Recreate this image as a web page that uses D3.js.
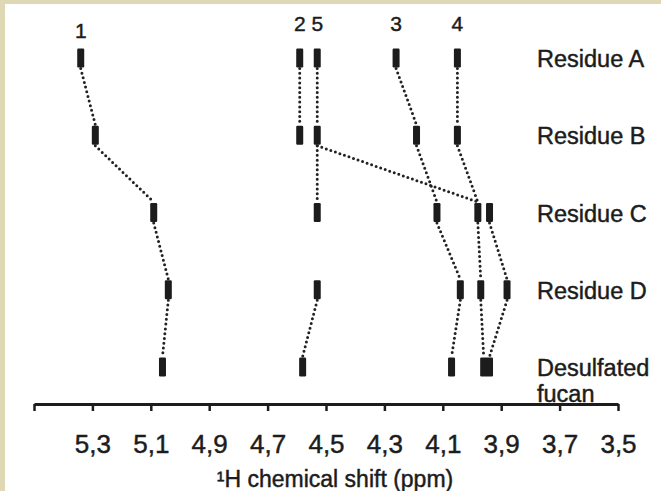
<!DOCTYPE html>
<html>
<head>
<meta charset="utf-8">
<script src="https://cdn.jsdelivr.net/npm/d3@7"></script>
<style>
  html, body { margin: 0; padding: 0; background: #fff; }
  svg { display: block; font-family: "Liberation Sans", Arial, Helvetica, sans-serif; }
  .lbl { stroke: #1c1c1c; stroke-width: 0.45px; paint-order: stroke; }
</style>
</head>
<body>
<svg id="chart" width="661" height="491"></svg>
<script>
// 1H chemical shifts (ppm) of each residue, read left to right
const rowNames = ["Residue A", "Residue B", "Residue C", "Residue D", "Desulfated fucan"];
const residueA = [5.34, 4.59, 4.53, 4.26, 4.05];
const residueB = [5.29, 4.59, 4.53, 4.19, 4.05];
const residueC = [5.09, 4.53, 4.12, 3.98, 3.94];
const residueD = [5.04, 4.53, 4.04, 3.97, 3.88];
const desulfated = [5.06, 4.58, 4.07, 3.96, 3.94];

// proton numbers over the Residue A signals
const protonLabels = ["1", "2", "5", "3", "4"];

// dotted correlations between consecutive rows: [upper ppm, lower ppm]
const linksAB = [[5.34, 5.29], [4.59, 4.59], [4.53, 4.53], [4.26, 4.19], [4.05, 4.05]];
const linksBC = [[5.29, 5.09], [4.53, 4.53], [4.53, 3.98], [4.19, 4.12], [4.05, 3.98]];
const linksCD = [[5.09, 5.04], [4.12, 4.04], [3.98, 3.97], [3.94, 3.88]];
const linksDE = [[5.04, 5.06], [4.53, 4.58], [4.04, 4.07], [3.97, 3.96], [3.88, 3.94]];

// axis ticks
const tickValues = [5.5, 5.3, 5.1, 4.9, 4.7, 4.5, 4.3, 4.1, 3.9, 3.7, 3.5];
const axisTitle = "\u00B9H chemical shift (ppm)";

const peaks = [residueA, residueB, residueC, residueD, desulfated];
const links = [linksAB, linksBC, linksCD, linksDE];

const W = 661, H = 491;
const svg = d3.select("#chart");

// beige frame with white plotting panel
svg.append("rect").attr("width", W).attr("height", H).attr("fill", "#ded8b5");
svg.append("rect").attr("x", 5).attr("y", 4).attr("width", W - 5).attr("height", H - 4).attr("fill", "#ffffff");

const x = d3.scaleLinear().domain([5.5, 3.5]).range([34, 618]);
const y = d3.scalePoint().domain(rowNames).range([58, 367]).padding(0);

const ink = "#1c1c1c";
const markW = 7, markH = 19;

// dotted connecting lines
links.forEach((set, i) => {
  const y0 = y(rowNames[i]) + markH / 2 + 1;
  const y1 = y(rowNames[i + 1]) - markH / 2 - 1;
  svg.append("g").selectAll("line").data(set).join("line")
    .attr("x1", d => x(d[0]))
    .attr("y1", y0)
    .attr("x2", d => x(d[1]))
    .attr("y2", y1)
    .attr("stroke", "#222")
    .attr("stroke-width", 3)
    .attr("stroke-linecap", "round")
    .attr("stroke-dasharray", "0,4.8");
});

// signal bars
peaks.forEach((row, i) => {
  svg.append("g").selectAll("rect").data(row).join("rect")
    .attr("x", d => x(d) - markW / 2)
    .attr("y", y(rowNames[i]) - markH / 2)
    .attr("width", markW)
    .attr("height", markH)
    .attr("rx", 1.2)
    .attr("fill", ink);
});

// proton numbers
const labelNudge = { "1": 7 };
svg.append("g").selectAll("text").data(protonLabels).join("text")
  .attr("class", "lbl")
  .attr("x", (d, i) => x(residueA[i]))
  .attr("y", d => 31 + (labelNudge[d] || 0))
  .attr("text-anchor", "middle")
  .attr("font-size", 21)
  .attr("fill", ink)
  .text(d => d);

// row labels
const rowLabels = svg.append("g").selectAll("text").data(rowNames).join("text")
  .attr("class", "lbl")
  .attr("x", 537)
  .attr("y", d => y(d) + 9)
  .attr("font-size", 23.5)
  .attr("fill", ink);
rowLabels.each(function (d) {
  const words = d === "Desulfated fucan" ? ["Desulfated", "fucan"] : [d];
  d3.select(this).selectAll("tspan").data(words).join("tspan")
    .attr("x", 537)
    .attr("dy", (w, j) => j === 0 ? 0 : 26)
    .text(w => w);
});

// x axis with comma decimals
const locale = d3.formatLocale({ decimal: ",", thousands: ".", grouping: [3], currency: ["", ""] });
const fmt = locale.format(".1f");
const axis = d3.axisBottom(x)
  .tickValues(tickValues)
  .tickSize(7)
  .tickSizeOuter(0)
  .tickPadding(24)
  .tickFormat(d => d === 5.5 ? "" : fmt(d));
const gx = svg.append("g").attr("transform", "translate(0,404)").call(axis);
gx.select(".domain").attr("stroke", ink).attr("stroke-width", 3);
gx.selectAll(".tick line").attr("stroke", ink).attr("stroke-width", 2.5);
gx.selectAll(".tick text")
  .attr("class", "lbl")
  .attr("fill", ink)
  .attr("font-size", 26)
  .attr("font-family", "\"Liberation Sans\", Arial, sans-serif");

svg.append("text")
  .attr("class", "lbl")
  .attr("x", 335)
  .attr("y", 487)
  .attr("text-anchor", "middle")
  .attr("font-size", 23)
  .attr("fill", ink)
  .text(axisTitle);
</script>
</body>
</html>
